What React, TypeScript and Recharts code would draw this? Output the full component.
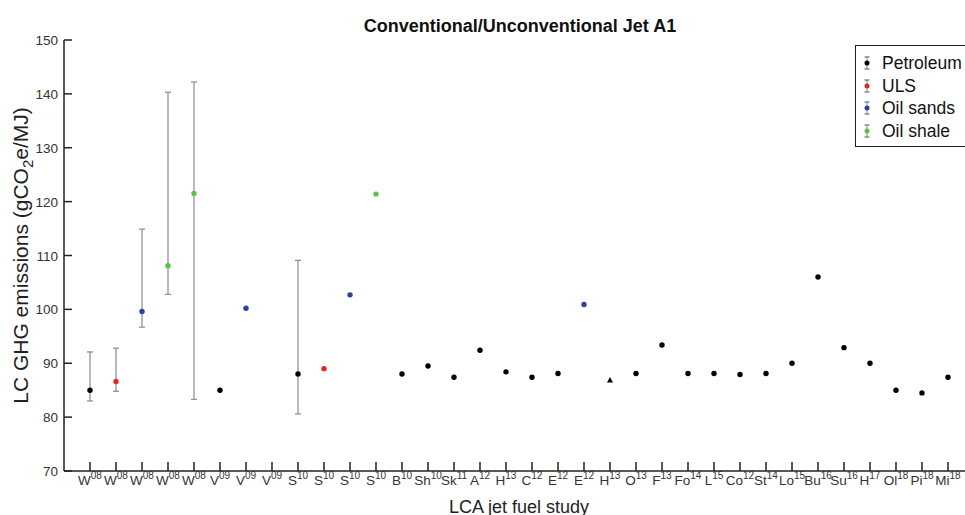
import React from 'react'
import { ScatterChart, Scatter, XAxis, YAxis, ErrorBar, Label } from 'recharts'

// study labels: name + year (shown as superscript)
const studyNames = ['W', 'W', 'W', 'W', 'W', 'V', 'V', 'V', 'S', 'S', 'S', 'S', 'B', 'Sh', 'Sk', 'A', 'H', 'C', 'E', 'E', 'H', 'O', 'F', 'Fo', 'L', 'Co', 'St', 'Lo', 'Bu', 'Su', 'H', 'Ol', 'Pi', 'Mi']
const studyYears = ['08', '08', '08', '08', '08', '09', '09', '09', '10', '10', '10', '10', '10', '10', '11', '12', '13', '12', '12', '12', '13', '13', '13', '14', '15', '12', '14', '15', '16', '16', '17', '18', '18', '18']

const n = null
const petroleum = [85.0, n, n, n, n, 85.0, n, n, 88.0, n, n, n, 88.0, 89.5, 87.4, 92.4, 88.4, 87.4, 88.1, n, 86.9, 88.1, 93.4, 88.1, 88.1, 87.9, 88.1, 90.0, 106.0, 92.9, 90.0, 85.0, 84.5, 87.4]
const uls = [n, 86.6, n, n, n, n, n, n, n, 89.0, n, n, n, n, n, n, n, n, n, n, n, n, n, n, n, n, n, n, n, n, n, n, n, n]
const oilSands = [n, n, 99.6, n, n, n, 100.2, n, n, n, 102.7, n, n, n, n, n, n, n, n, 100.9, n, n, n, n, n, n, n, n, n, n, n, n, n, n]
const oilShale = [n, n, n, 108.1, 121.5, n, n, n, n, n, n, 121.4, n, n, n, n, n, n, n, n, n, n, n, n, n, n, n, n, n, n, n, n, n, n]
const errLow = [83.0, 84.8, 96.7, 102.8, 83.3, n, n, n, 80.6, n, n, n, n, n, n, n, n, n, n, n, n, n, n, n, n, n, n, n, n, n, n, n, n, n]
const errHigh = [92.1, 92.8, 114.9, 140.3, 142.2, n, n, n, 109.1, n, n, n, n, n, n, n, n, n, n, n, n, n, n, n, n, n, n, n, n, n, n, n, n, n]
const markers = studyNames.map((_, i) => (i === 20 ? 'triangle' : 'circle'))

const yTicks = [70, 80, 90, 100, 110, 120, 130, 140, 150]
const positions = studyNames.map((_, i) => i + 1)

const FONT = '"Liberation Sans", Arial, Helvetica, sans-serif'
const AXIS = '#222'
// tickSize + tickMargin, so the custom ticks can find the axis line again
const TICK_GAP = 2

const build = (values: (number | null)[]) =>
  values
    .map((v, i) =>
      v == null
        ? null
        : {
            x: i + 1,
            y: v,
            err: errLow[i] != null ? [v - (errLow[i] as number), (errHigh[i] as number) - v] : null,
            marker: markers[i],
          }
    )
    .filter(Boolean)

const series = [
  { name: 'Petroleum', color: '#000000', data: build(petroleum) },
  { name: 'ULS', color: '#e3261f', data: build(uls) },
  { name: 'Oil sands', color: '#2f3f9f', data: build(oilSands) },
  { name: 'Oil shale', color: '#5ac24b', data: build(oilShale) },
]

const dot = (color: string) => (props: any) => {
  const { cx, cy, payload } = props
  if (payload && payload.marker === 'triangle') {
    return <polygon points={`${cx},${cy - 3} ${cx - 3},${cy + 2.5} ${cx + 3},${cy + 2.5}`} fill={color} />
  }
  return <circle cx={cx} cy={cy} r={2.7} fill={color} />
}

// inward tick marks like the MATLAB original
const XTick = (props: any) => {
  const { x, y, payload } = props
  const i = payload.value - 1
  const axisY = y - TICK_GAP
  return (
    <g>
      <line x1={x} y1={axisY} x2={x} y2={axisY - 9} stroke={AXIS} strokeWidth={1.5} />
      <text x={x} y={axisY + 14} textAnchor="middle" fontFamily={FONT} fontSize={13.5} fill="#333">
        <tspan>{studyNames[i]}</tspan>
        <tspan fontSize={10} dy={-6}>{studyYears[i]}</tspan>
      </text>
    </g>
  )
}

const YTick = (props: any) => {
  const { x, y, payload } = props
  const axisX = x + TICK_GAP
  return (
    <g>
      <line x1={axisX} y1={y} x2={axisX + 8} y2={y} stroke={AXIS} strokeWidth={1.5} />
      <text x={axisX - 6} y={y} dy={5} textAnchor="end" fontFamily={FONT} fontSize={13.5} fill="#333">
        {payload.value}
      </text>
    </g>
  )
}

const XTitle = (props: any) => {
  const { x, y, width } = props.viewBox
  return (
    <text x={x + width / 2} y={y + 42} textAnchor="middle" fontFamily={FONT} fontSize={18} fill="#222">
      LCA jet fuel study
    </text>
  )
}

const YTitle = (props: any) => {
  const { y, height } = props.viewBox
  const cx = 28
  const cy = y + height / 2
  return (
    <text x={cx} y={cy} transform={`rotate(-90, ${cx}, ${cy})`} textAnchor="middle" fontFamily={FONT} fontSize={21} fill="#222">
      LC GHG emissions (gCO<tspan fontSize={15} dy={5}>2</tspan>
      <tspan dy={-5}>e/MJ)</tspan>
    </text>
  )
}

const LegendIcon = ({ color }: { color: string }) => (
  <svg width={10} height={14} style={{ position: 'absolute', left: 6, top: 4 }}>
    <line x1={5} y1={1} x2={5} y2={13} stroke="#8a8a8a" strokeWidth={1} />
    <line x1={2.5} y1={1} x2={7.5} y2={1} stroke="#555" strokeWidth={1} />
    <line x1={2.5} y1={13} x2={7.5} y2={13} stroke="#555" strokeWidth={1} />
    <circle cx={5} cy={7} r={2.5} fill={color} />
  </svg>
)

export default function App() {
  return (
    <div style={{ position: 'absolute', left: 0, top: 0, width: 965, height: 515, overflow: 'hidden', background: '#fff' }}>
      <div
        style={{
          position: 'absolute',
          left: 0,
          top: 17,
          width: 1040,
          textAlign: 'center',
          fontFamily: FONT,
          fontWeight: 'bold',
          fontSize: 18,
          lineHeight: '18px',
          color: '#111',
        }}
      >
        Conventional/Unconventional Jet A1
      </div>
      <ScatterChart width={990} height={515} margin={{ top: 40, right: 16, bottom: 0, left: 0 }}>
        <XAxis
          type="number"
          dataKey="x"
          domain={[0, 35]}
          ticks={positions}
          interval={0}
          tickSize={1}
          tickMargin={1}
          tickLine={false}
          axisLine={{ stroke: AXIS, strokeWidth: 1.5 }}
          height={44}
          tick={<XTick />}
        >
          <Label content={<XTitle />} />
        </XAxis>
        <YAxis
          type="number"
          dataKey="y"
          domain={[70, 150]}
          ticks={yTicks}
          interval={0}
          tickSize={1}
          tickMargin={1}
          tickLine={false}
          axisLine={{ stroke: AXIS, strokeWidth: 1.5 }}
          width={64}
          tick={<YTick />}
        >
          <Label content={<YTitle />} />
        </YAxis>
        {series.map((s) => (
          <Scatter key={s.name} name={s.name} data={s.data as any[]} fill={s.color} shape={dot(s.color)} isAnimationActive={false}>
            <ErrorBar dataKey="err" direction="y" width={3} stroke="#8a8a8a" strokeWidth={1.2} isAnimationActive={false} />
          </Scatter>
        ))}
      </ScatterChart>
      <div
        style={{
          position: 'absolute',
          left: 855,
          top: 45,
          width: 140,
          height: 100,
          border: '1px solid #222',
          background: '#fff',
          fontFamily: FONT,
          fontSize: 17.5,
          color: '#111',
        }}
      >
        {series.map((s, i) => (
          <div key={s.name} style={{ position: 'absolute', left: 0, top: 6 + i * 22.7, height: 22, width: 140 }}>
            <LegendIcon color={s.color} />
            <span style={{ position: 'absolute', left: 26, top: 0, lineHeight: '22px', whiteSpace: 'nowrap' }}>{s.name}</span>
          </div>
        ))}
      </div>
    </div>
  )
}
